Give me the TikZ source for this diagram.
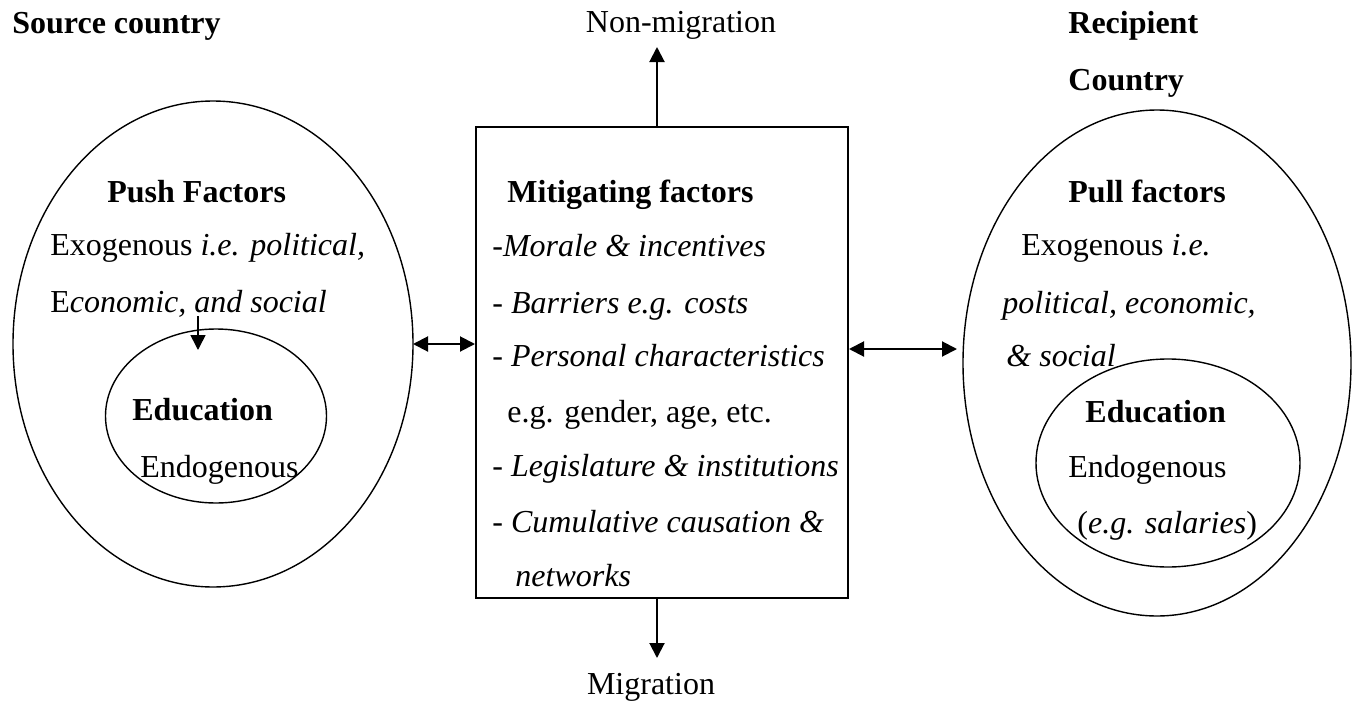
\documentclass[tikz,border=0pt]{standalone}
\usepackage{fontspec}
\setmainfont{Liberation Serif}
\usetikzlibrary{arrows.meta,shapes.geometric}
\tikzset{
    txt/.style={anchor=west, inner sep=0pt, text height=10.5pt, text depth=0pt, font=\fontsize{16}{19}\selectfont},
    zone/.style={draw, ellipse, line width=0.7pt, inner sep=0pt, outer sep=0pt},
    arr/.style={line width=1pt, -{Triangle[length=7.5pt,width=7.5pt]}},
    darr/.style={line width=1pt, {Triangle[length=7.5pt,width=7.5pt]}-{Triangle[length=7.5pt,width=7.5pt]}}
}
\begin{document}
\begin{tikzpicture}[x=0.5pt, y=-0.5pt]
    \useasboundingbox (0,0) rectangle (1356,702);
    \node[zone, minimum width=200pt, minimum height=243pt] (push) at (213,344) {};
    \node[zone, minimum width=110.5pt, minimum height=87pt] (eduL) at (216,416) {};
    \node[zone, minimum width=194pt, minimum height=253pt] (pull) at (1157,363) {};
    \node[zone, minimum width=132pt, minimum height=104pt] (eduR) at (1168,463) {};
    \node[draw, line width=1pt, inner sep=0pt, minimum width=186pt, minimum height=235.5pt] (mit) at (662,362.5) {};
    \node[txt] (src) at (12,23) {\textbf{Source country}};
    \node[txt] (pushT) at (107,192) {\textbf{Push Factors}};
    \node[txt] (exoL) at (50,245) {Exogenous \textit{i.e. political,}};
    \node[txt] (ecoL) at (50,302) {E\textit{conomic, and social}};
    \node[txt] (eduLT) at (132,410) {\textbf{Education}};
    \node[txt] (endoL) at (140,467) {Endogenous};
    \node[txt] (mitT) at (507,192) {\textbf{Mitigating factors}};
    \node[txt] (m1) at (492,246) {-\textit{Morale \& incentives}};
    \node[txt] (m2) at (492,303) {- \textit{Barriers e.g. costs}};
    \node[txt] (m3) at (492,356) {- \textit{Personal characteristics}};
    \node[txt] (m4) at (507,412) {e.g. gender, age, etc.};
    \node[txt] (m5) at (492,466) {- \textit{Legislature \& institutions}};
    \node[txt] (m6) at (492,522) {- \textit{Cumulative causation \&}};
    \node[txt] (m7) at (515,576) {\textit{networks}};
    \node[txt, anchor=center] (nonmig) at (681,22) {Non-migration};
    \node[txt, anchor=center] (mig) at (651,684) {Migration};
    \node[txt] (rec) at (1068,23) {\textbf{Recipient}};
    \node[txt] (cty) at (1068,80) {\textbf{Country}};
    \node[txt] (pullT) at (1068,192) {\textbf{Pull factors}};
    \node[txt] (exoR) at (1021,245) {Exogenous \textit{i.e.}};
    \node[txt] (polR) at (1002,303) {\textit{political, economic,}};
    \node[txt] (socR) at (1006,356) {\textit{\& social}};
    \node[txt] (eduRT) at (1085,412) {\textbf{Education}};
    \node[txt] (endoR) at (1068,467) {Endogenous};
    \node[txt] (salR) at (1077,523) {(\textit{e.g. salaries})};
    \coordinate (uptip) at (657,47);
    \coordinate (dntip) at (657,658);
    \coordinate (rtip) at (957,349);
    \coordinate (edtail) at (198,316);
    \coordinate (edtip) at (198,350);
    \draw[arr] (mit.north -| uptip) -- (uptip);
    \draw[arr] (mit.south -| dntip) -- (dntip);
    \draw[darr] (push.east) -- (push.east -| mit.west);
    \draw[darr] (mit.east |- rtip) -- (rtip);
    \draw[arr, line width=0.8pt] (edtail) -- (edtip);
\end{tikzpicture}
\end{document}
